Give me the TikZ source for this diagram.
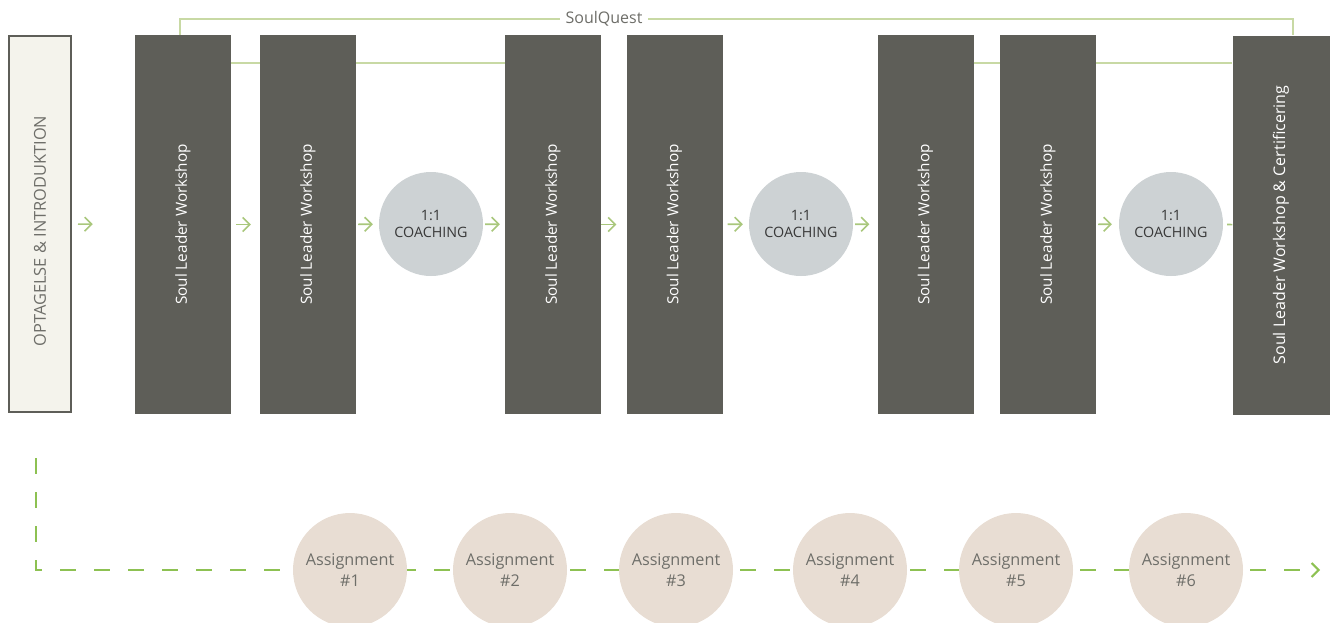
\documentclass[tikz,border=0pt]{standalone}
\usepackage{fontspec}
\setmainfont{Open Sans}
\usepackage{tikz}
\usetikzlibrary{arrows.meta}
\definecolor{slate}{HTML}{5E5E58}
\definecolor{cream}{HTML}{F4F3EC}
\definecolor{txtgray}{HTML}{6E6E69}
\definecolor{coachgray}{HTML}{CDD2D4}
\definecolor{sand}{HTML}{E8DDD3}
\definecolor{leaf}{HTML}{A9C77C}
\definecolor{paleleaf}{HTML}{C8D9A4}
\definecolor{grass}{HTML}{8DC152}
\tikzset{
  wsbox/.style = {rectangle, fill=slate, text=white, inner sep=0pt,
    minimum width=96pt, minimum height=379pt},% boite workshop
  ws_txt/.style = {rotate=90, text=white, font=\fontsize{15.3}{18}\selectfont},
  introbox/.style = {rectangle, fill=cream, draw=slate, line width=2pt,
    minimum width=62pt, minimum height=376pt, inner sep=0pt},% boite intro
  coach_c/.style = {circle, fill=coachgray, text=black!78, align=center,
    minimum size=104pt, inner sep=0pt, font=\fontsize{14.3}{17}\selectfont},% cercle coaching
  assign_c/.style = {circle, fill=sand, text=txtgray, align=center,
    minimum size=114pt, inner sep=0pt, font=\fontsize{16.2}{21}\selectfont},% cercle assignment
  flow/.style = {leaf, line width=1.6pt, -{Straight Barb[length=7pt,width=14pt]}},
  quest/.style = {paleleaf, line width=2pt},
  track/.style = {grass, line width=2pt, dash pattern=on 16pt off 18pt}
}
\begin{document}
\begin{tikzpicture}[x=1pt,y=-1pt]
\useasboundingbox (0,0) rectangle (1330,622);
% boxes and circles
\node [introbox] (intro) at (40,224) {};
\node [rotate=90, text=txtgray, font=\fontsize{16.4}{19}\selectfont] (introtxt) at (40,231) {OPTAGELSE \& INTRODUKTION};
\node [wsbox] (ws1) at (183,224.5) {};
\node [wsbox] (ws2) at (308,224.5) {};
\node [coach_c] (co1) at (431,224) {1:1\\COACHING};
\node [wsbox] (ws3) at (553,224.5) {};
\node [wsbox] (ws4) at (674.5,224.5) {};
\node [coach_c] (co2) at (801,224) {1:1\\COACHING};
\node [wsbox] (ws5) at (925.5,224.5) {};
\node [wsbox] (ws6) at (1048,224.5) {};
\node [coach_c] (co3) at (1171,224) {1:1\\COACHING};
\node [wsbox, minimum width=97pt] (ws7) at (1281,225) {};
% SoulQuest bracket
\coordinate (q1) at (180,19);
\coordinate (q2) at (1293,19);
\draw [quest] (q1 |- ws1.north) -- (q1) -- (q2) -- (q2 |- ws7.north);
\node [fill=white, text=txtgray, inner xsep=6pt, font=\fontsize{16}{18}\selectfont] (sq) at (604,19) {SoulQuest};
\coordinate (r1) at (0,63);
\draw [quest] (ws1.east |- r1) -- (ws2.west |- r1);
\draw [quest] (ws2.east |- r1) -- (ws3.west |- r1);
\draw [quest] (ws5.east |- r1) -- (ws6.west |- r1);
\draw [quest] (ws6.east |- r1) -- (ws7.west |- r1);
% box texts
\node [ws_txt] at (ws1) {Soul Leader Workshop};
\node [ws_txt] at (ws2) {Soul Leader Workshop};
\node [ws_txt] at (ws3) {Soul Leader Workshop};
\node [ws_txt] at (ws4) {Soul Leader Workshop};
\node [ws_txt] at (ws5) {Soul Leader Workshop};
\node [ws_txt] at (ws6) {Soul Leader Workshop};
\node [ws_txt, font=\fontsize{16}{18}\selectfont] at (ws7) {Soul Leader Workshop \& Certificering};
% arrows
\draw [flow, shorten <=6pt, shorten >=42pt] (intro) -- (ws1);
\draw [flow, shorten <=5pt, shorten >=9pt] (ws1) -- (ws2);
\draw [flow, shorten <=2pt, shorten >=6pt] (ws2) -- (co1);
\draw [flow, shorten <=2pt, shorten >=5pt] (co1) -- (ws3);
\draw [flow, shorten <=0pt, shorten >=10pt] (ws3) -- (ws4);
\draw [flow, shorten <=5pt, shorten >=6pt] (ws4) -- (co2);
\draw [flow, shorten <=2pt, shorten >=8pt] (co2) -- (ws5);
\draw [flow, shorten <=2pt, shorten >=7pt] (ws6) -- (co3);
\draw [leaf, line width=1.6pt, shorten <=4pt] (co3) -- (ws7);
% assignments track
\coordinate (tstart) at (36,458);
\coordinate (tcorner) at (36,570);
\coordinate (tend) at (1320,570);
\draw [track, -{Straight Barb[length=7pt,width=14pt]}] (tstart) -- (tcorner) -- (tend);
\node [assign_c] (as1) at (350,570) {Assignment\\\#1};
\node [assign_c] (as2) at (510,570) {Assignment\\\#2};
\node [assign_c] (as3) at (676,570) {Assignment\\\#3};
\node [assign_c] (as4) at (850,570) {Assignment\\\#4};
\node [assign_c] (as5) at (1016,570) {Assignment\\\#5};
\node [assign_c] (as6) at (1186,570) {Assignment\\\#6};
\end{tikzpicture}
\end{document}
